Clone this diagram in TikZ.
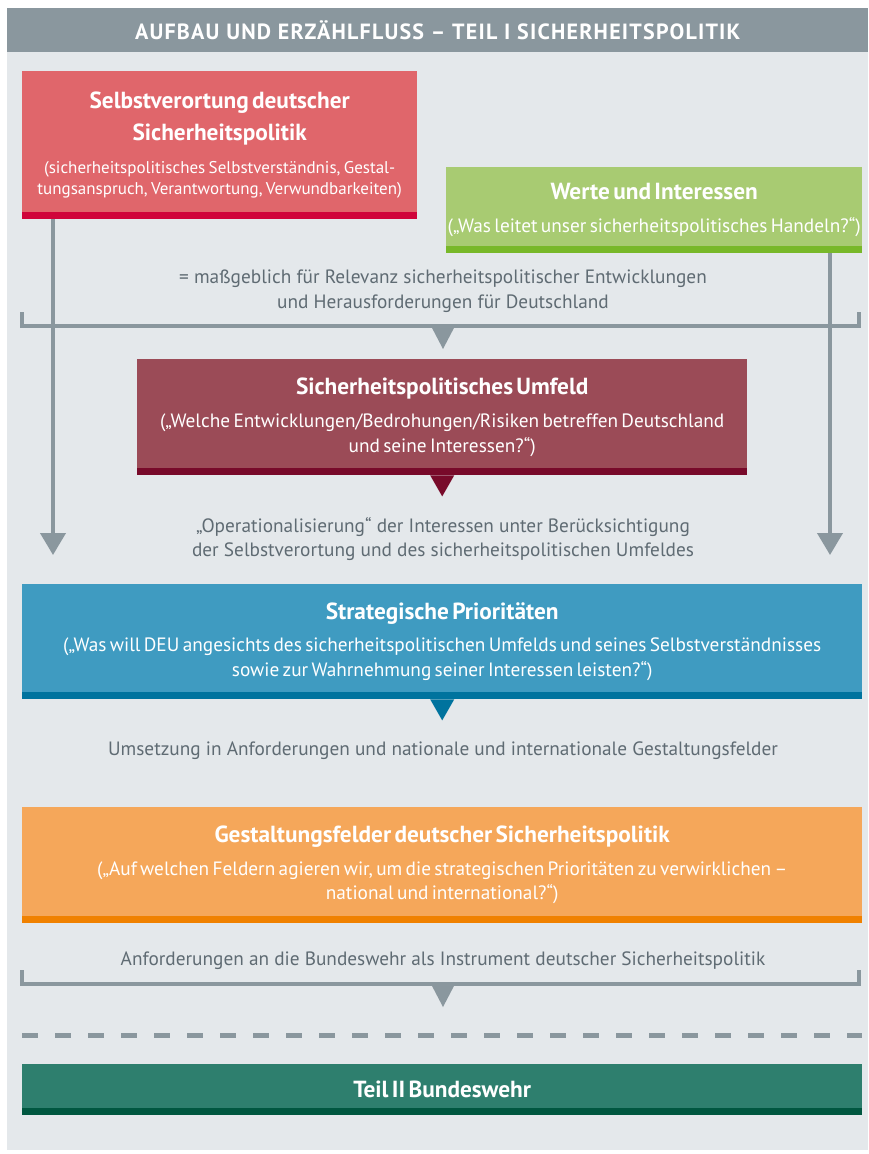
\documentclass[tikz,border=0pt]{standalone}
\usepackage{fontspec}
\setmainfont{PT Sans}[BoldFeatures={WordSpace=1.6}]
\newfontfamily\headfont{PT Sans}[LetterSpace=5.5]
\usetikzlibrary{arrows.meta,positioning}
\definecolor{barGrey}{HTML}{8A979E}
\definecolor{panelGrey}{HTML}{E4E8EB}
\definecolor{txtGrey}{HTML}{5F6B73}
\definecolor{selbstFill}{HTML}{E0666B}
\definecolor{selbstStrip}{HTML}{D0043A}
\definecolor{werteFill}{HTML}{A8CB72}
\definecolor{werteStrip}{HTML}{78B829}
\definecolor{umfeldFill}{HTML}{9B4B57}
\definecolor{umfeldStrip}{HTML}{780A2A}
\definecolor{prioFill}{HTML}{3F9BC1}
\definecolor{prioStrip}{HTML}{00739E}
\definecolor{felderFill}{HTML}{F5A75A}
\definecolor{felderStrip}{HTML}{F08100}
\definecolor{teilFill}{HTML}{2E7F6E}
\definecolor{teilStrip}{HTML}{005740}
\newcommand{\ttl}{\fontsize{23.3}{32}\selectfont\bfseries}
\newcommand{\sub}{\fontsize{19.3}{24.5}\selectfont\mdseries}
\newcommand{\subsm}{\fontsize{17}{21}\selectfont\mdseries}

\begin{document}
\begin{tikzpicture}[x=1pt,y=-1pt,>=Triangle,
	box/.style n args={4}{anchor=north west, inner sep=0pt, minimum width=#1pt, text width=#1pt, minimum height=#2pt, fill=#3, text=white, align=center,
		path picture={\fill[#4] ([yshift=7pt]path picture bounding box.south west) rectangle (path picture bounding box.south east);}},
	note/.style={text=txtGrey, align=center, font=\sub},
	flow/.style={->, draw=barGrey, line width=4pt, -{Triangle[width=25pt,length=22pt]}},
	bar/.style={draw=barGrey, line width=4pt}]
%	\draw [help lines] (0,0) grid[step=50] (868,1154);
	\useasboundingbox (0,0) rectangle (868,1154);
	\fill[white] (0,0) rectangle (868,1154);
	\fill[panelGrey] (7,52) rectangle (868,1150);
	\node[anchor=north west, minimum width=861pt, minimum height=44pt, inner sep=0pt, fill=barGrey, text=white, font=\headfont\fontsize{22}{26}\selectfont\bfseries] (head) at (7,8) {AUFBAU UND ERZÄHLFLUSS – TEIL I SICHERHEITSPOLITIK};

	% boxes
	\node[box={395}{148}{selbstFill}{selbstStrip}] (selbst) at (22,71) {\ttl Selbstverortung deutscher\\Sicherheitspolitik\\[12pt]\subsm (sicherheitspolitisches Selbstverständnis, Gestal-\\tungsanspruch, Verantwortung, Verwundbarkeiten)\\[4pt]};
	\node[box={416}{86}{werteFill}{werteStrip}] (werte) at (446,167) {\ttl Werte und Interessen\\[9pt]\sub („Was leitet unser sicherheitspolitisches Handeln?“)\\[4pt]};
	\node[box={610}{116}{umfeldFill}{umfeldStrip}] (umfeld) at (137,359) {\ttl Sicherheitspolitisches Umfeld\\[9pt]\sub („Welche Entwicklungen/Bedrohungen/Risiken betreffen Deutschland\\und seine Interessen?“)\\[4pt]};
	\node[box={840}{115}{prioFill}{prioStrip}] (prio) at (22,584) {\ttl Strategische Prioritäten\\[8pt]\sub („Was will DEU angesichts des sicherheitspolitischen Umfelds und seines Selbstverständnisses\\sowie zur Wahrnehmung seiner Interessen leisten?“)\\[4pt]};
	\node[box={840}{116}{felderFill}{felderStrip}] (felder) at (22,807) {\ttl Gestaltungsfelder deutscher Sicherheitspolitik\\[8pt]\sub („Auf welchen Feldern agieren wir, um die strategischen Prioritäten zu verwirklichen –\\national und international?“)\\[4pt]};
	\node[box={840}{51}{teilFill}{teilStrip}] (teil) at (22,1064) {\ttl Teil II Bundeswehr\\[4pt]};

	% grey notes
	\node[note] (relevanz) at (443,291) {= maßgeblich für Relevanz sicherheitspolitischer Entwicklungen\\und Herausforderungen für Deutschland};
	\node[note] (oper) at (443,539) {„Operationalisierung“ der Interessen unter Berücksichtigung\\der Selbstverortung und des sicherheitspolitischen Umfeldes};
	\node[note] (umsetzung) at (443,751) {Umsetzung in Anforderungen und nationale und internationale Gestaltungsfelder};
	\node[note] (anford) at (443,961) {Anforderungen an die Bundeswehr als Instrument deutscher Sicherheitspolitik};

	% long arrows
	\coordinate (leftEnd) at (53,555);
	\coordinate (rightEnd) at (830,555);
	\draw[flow] (selbst.south -| leftEnd) -- (leftEnd);
	\draw[flow] (werte.south -| rightEnd) -- (rightEnd);

	% brackets
	\draw[bar] (22,312) -- (22,326) -- (859,326) -- (859,312);
	\fill[barGrey] (431,326) -- (455,326) -- (443,349) -- cycle;
	\draw[bar] (22,970) -- (22,984) -- (859,984) -- (859,970);
	\fill[barGrey] (431,984) -- (455,984) -- (443,1007) -- cycle;

	% pointers under boxes
	\fill[umfeldStrip] ([xshift=-12pt]umfeld.south) -- ([xshift=12pt]umfeld.south) -- ([yshift=-21pt]umfeld.south) -- cycle;
	\fill[prioStrip] ([xshift=-12pt]prio.south) -- ([xshift=12pt]prio.south) -- ([yshift=-21pt]prio.south) -- cycle;

	\draw[barGrey, line width=5pt, dash pattern=on 16pt off 17pt] (22,1035) -- (862,1035);
\end{tikzpicture}
\end{document}
